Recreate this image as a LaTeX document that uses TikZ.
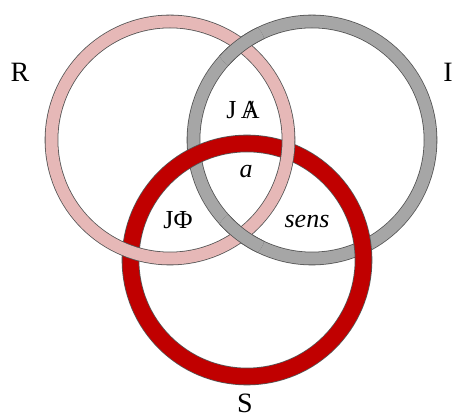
\documentclass[tikz,border=0pt]{standalone}
\usepackage{fontspec}
\setmainfont{Liberation Serif}
\definecolor{ringpink}{RGB}{230,184,183}
\definecolor{ringgray}{RGB}{166,166,166}
\definecolor{ringred}{RGB}{192,0,0}
\definecolor{ringedge}{RGB}{85,85,85}
\begin{document}
\begin{tikzpicture}[x=1pt, y=1pt,
    ring/.style={draw=ringedge, line width=0.8pt, double distance=12pt},
    redring/.style={ring, double=ringred, double distance=16pt},
    tag/.style={inner sep=0pt, font=\fontsize{28}{32}\selectfont},
    smalltag/.style={inner sep=0pt, font=\fontsize{26}{30}\selectfont}]
    \useasboundingbox (0,0) rectangle (455,420);
    % centres of the three rings
    \coordinate (Rc) at (170,280);
    \coordinate (Ic) at (312,280);
    \coordinate (Sc) at (247,160);
    % where R and I cross
    \coordinate (top) at (241,375);
    \coordinate (bottom) at (241,185);
    \draw[ring, double=ringgray] (Ic) circle (118.5);
    \draw[redring] (Sc) circle (116.5);
    \draw[ring, double=ringpink] (Rc) circle (118.5);
    % I passes over R
    \begin{scope}
        \clip (top) circle (24);
        \draw[ring, double=ringgray] (Ic) circle (118.5);
    \end{scope}
    \begin{scope}
        \clip (bottom) circle (24);
        \draw[ring, double=ringgray] (Ic) circle (118.5);
    \end{scope}
    \node[tag] (R) at (20,348) {R};
    \node[tag] (I) at (448,348) {I};
    \node[tag] (S) at (245,17) {S};
    \node[smalltag] (JA) at (243,310) {J\,\ooalign{A\cr\hidewidth/\hidewidth}};
    \node[smalltag] (a) at (246,248) {\itshape a};
    \node[smalltag] (JPhi) at (178,200) {JΦ};
    \node[smalltag] (sens) at (307,198) {\itshape sens};
\end{tikzpicture}
\end{document}
